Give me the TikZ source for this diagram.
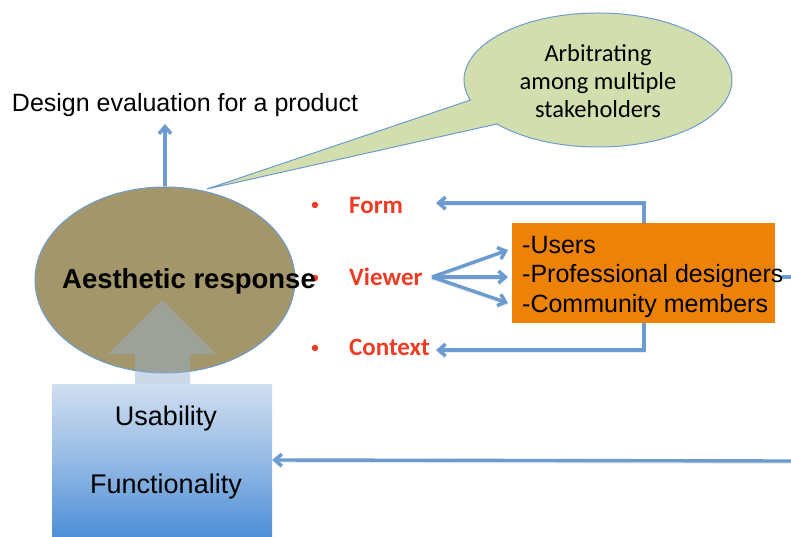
\documentclass[tikz,border=0pt]{standalone}
\usepackage{fontspec}
\setmainfont{Liberation Sans}
\newfontfamily\calibri{Carlito}
\usetikzlibrary{arrows.meta,shapes.geometric,calc}

\definecolor{linkblue}{RGB}{108,155,208}
\definecolor{olive}{RGB}{163,150,106}
\definecolor{bubblegreen}{RGB}{211,222,174}
\definecolor{peopleorange}{RGB}{236,130,8}
\definecolor{factorred}{RGB}{238,59,36}
\definecolor{boxtop}{RGB}{208,222,240}
\definecolor{boxbottom}{RGB}{78,143,214}
\definecolor{liftgray}{RGB}{149,176,207}

\tikzset{
  conn/.style={draw=linkblue, line width=3.4pt,
    -{Straight Barb[length=7pt,width=12pt]},
    preaction={draw=black, draw opacity=0.08, line width=3.4pt,
      transform canvas={yshift=-1.2pt}}},
  plainconn/.style={draw=linkblue, line width=3.4pt},
  txt/.style={inner sep=0pt, anchor=base},
  txtw/.style={inner sep=0pt, anchor=base west},
  factor/.style={txtw, text=factorred, font=\calibri\bfseries\fontsize{25}{28}\selectfont},
  dot/.style={inner sep=0pt, anchor=base, text=factorred, font=\calibri\fontsize{18}{22}\selectfont},
  people/.style={txtw, font=\fontsize{25}{30}\selectfont},
  bubbletext/.style={txt, font=\calibri\fontsize{24.5}{28}\selectfont},
}

\begin{document}
\begin{tikzpicture}[x=1pt,y=1pt]
\useasboundingbox (0,0) rectangle (791,536);

% aesthetic response ellipse
\node[ellipse, draw=linkblue, line width=1pt, fill=olive,
      minimum width=260pt, minimum height=186pt, inner sep=0pt] (resp) at (165,256) {};

% upward block arrow from usability/functionality
\fill[liftgray, fill opacity=0.48]
  (135,152) -- (135,182) -- (108,182) -- (162,236) -- (216,182) -- (190,182) -- (190,152) -- cycle;

% usability / functionality box
\node[rectangle, minimum width=220pt, minimum height=152pt, inner sep=0pt,
      top color=boxtop, bottom color=boxbottom, middle color=boxtop!55!boxbottom] (func) at (162,76) {};
\node[txt, font=\fontsize{27}{32}\selectfont] (usab) at (166,111) {Usability};
\node[txt, font=\fontsize{27}{32}\selectfont] (funct) at (166,43) {Functionality};

% speech bubble
\coordinate (bc) at (598,456);
\coordinate (tip) at (207,347);
\path[fill=bubblegreen, draw=linkblue, line width=1pt]
  ($(bc)+(221:134 and 67)$) arc[start angle=221, end angle=557.5, x radius=134, y radius=67]
  -- (tip) -- cycle;
\node[bubbletext] (b1) at (598,474) {Arbitrating};
\node[bubbletext] (b2) at (598,446) {among multiple};
\node[bubbletext] (b3) at (598,418) {stakeholders};

% title and evaluation arrow
\node[txt, font=\fontsize{25}{30}\selectfont] (eval) at (185,424) {Design evaluation for a product};
\coordinate (evalin) at (165,412);
\draw[conn] (resp.north) -- (evalin);

% bullet list
\node[dot] (d1) at (315,325) {•};
\node[dot] (d2) at (315,253) {•};
\node[dot] (d3) at (315,183) {•};
\node[factor] (form) at (349,323) {Form};
\node[factor] (viewer) at (349,251) {Viewer};
\node[factor] (context) at (349,181) {Context};

% stakeholder box
\node[rectangle, fill=peopleorange, minimum width=263pt, minimum height=100pt, inner sep=0pt] (ppl) at (643.5,263) {};
\node[people] (p1) at (522,283) {-Users};
\node[people] (p2) at (522,254) {-Professional designers};
\node[people] (p3) at (522,224) {-Community members};

% response label on top
\node[txt, font=\bfseries\fontsize{27.5}{32}\selectfont] (resptext) at (189,248) {Aesthetic response};

% viewer fan-out
\coordinate (vout) at (432,259);
\draw[conn] (vout) -- (508,286);
\draw[conn] (vout) -- (508,259);
\draw[conn] (vout) -- (508,233);

% feedback to form and context
\coordinate (formin) at (436,333);
\coordinate (ctxin) at (436,186);
\draw[conn] (ppl.north -| 644,0) |- (formin);
\draw[conn] (ppl.south -| 644,0) |- (ctxin);

% lines entering from the right edge
\coordinate (rightA) at (791,259);
\coordinate (rightB) at (791,75);
\draw[plainconn] (rightA) -- (782,259);
\draw[conn] (rightB) -- (func.east);
\end{tikzpicture}
\end{document}
